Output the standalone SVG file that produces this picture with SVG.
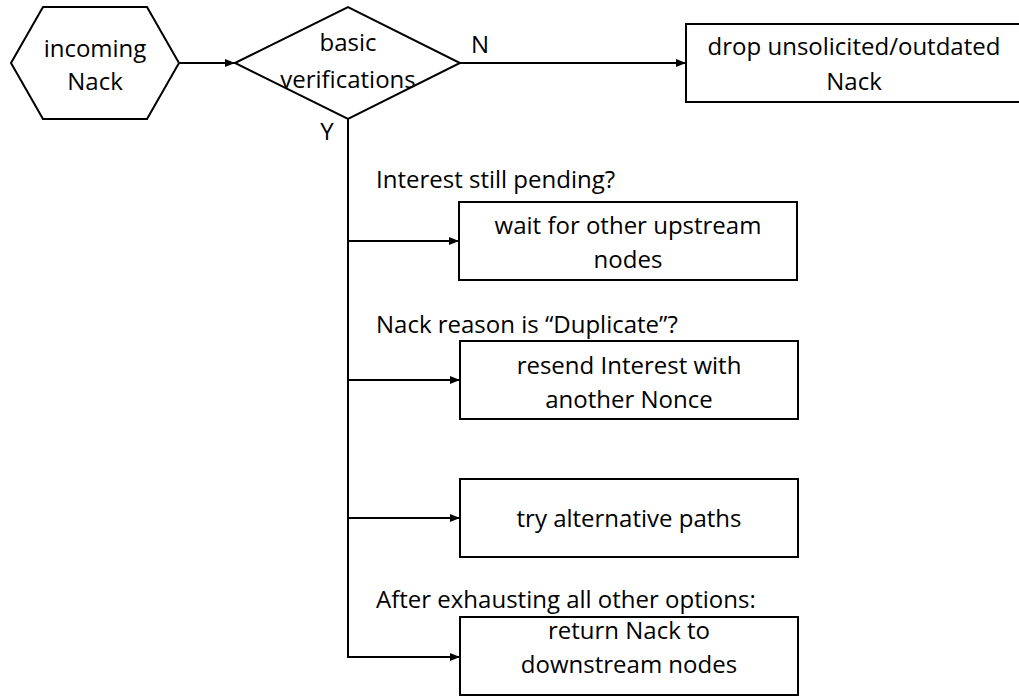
<svg xmlns="http://www.w3.org/2000/svg" width="1019" height="696" viewBox="0 0 1019 696">
  <style>
    .shape { fill: #fff; stroke: #000; stroke-width: 2; }
    .txt { font-family: "Open Sans", "Noto Sans", sans-serif; font-size: 24px; fill: #000; }
    .mid { text-anchor: middle; }
    .edge { fill: none; stroke: #000; stroke-width: 2; }
  </style>
  <defs>
    <marker id="arrow" markerWidth="10" markerHeight="8" refX="10" refY="4" orient="auto" markerUnits="userSpaceOnUse">
      <path d="M0,0 L10,4 L0,8 Z" fill="#000"/>
    </marker>
  </defs>

  <rect width="1019" height="696" fill="#fff"/>

  <!-- connectors -->
  <g id="connectors">
    <line class="edge" x1="179" y1="63" x2="235" y2="63" marker-end="url(#arrow)"/>
    <line class="edge" x1="460" y1="63" x2="686" y2="63" marker-end="url(#arrow)"/>
    <line class="edge" x1="348" y1="119" x2="348" y2="657"/>
    <line class="edge" x1="347" y1="241" x2="459" y2="241" marker-end="url(#arrow)"/>
    <line class="edge" x1="347" y1="380" x2="460" y2="380" marker-end="url(#arrow)"/>
    <line class="edge" x1="347" y1="518" x2="460" y2="518" marker-end="url(#arrow)"/>
    <line class="edge" x1="347" y1="657" x2="460" y2="657" marker-end="url(#arrow)"/>
    <text class="txt mid" x="480" y="53">N</text>
    <text class="txt mid" x="327" y="140">Y</text>
    <text class="txt" x="376" y="188">Interest still pending?</text>
    <text class="txt" x="376" y="333">Nack reason is “Duplicate”?</text>
    <text class="txt" x="376" y="608">After exhausting all other options:</text>
  </g>

  <!-- start node -->
  <g id="incoming-nack">
    <polygon class="shape" points="11,63 43,7 147,7 179,63 147,119 43,119"/>
    <text class="txt mid" x="95" y="57">incoming</text>
    <text class="txt mid" x="95" y="90">Nack</text>
  </g>

  <!-- decision -->
  <g id="basic-verifications">
    <polygon class="shape" points="235,63 348,7 460,63 348,119"/>
    <text class="txt mid" x="348" y="51">basic</text>
    <text class="txt mid" x="348" y="88">verifications</text>
  </g>

  <g id="drop-nack">
    <rect class="shape" x="686" y="24" width="340" height="78"/>
    <text class="txt mid" x="854" y="55">drop unsolicited/outdated</text>
    <text class="txt mid" x="854" y="90">Nack</text>
  </g>

  <g id="wait-upstream">
    <rect class="shape" x="459" y="202" width="338" height="78"/>
    <text class="txt mid" x="628" y="234">wait for other upstream</text>
    <text class="txt mid" x="628" y="268">nodes</text>
  </g>

  <g id="resend-interest">
    <rect class="shape" x="460" y="341" width="338" height="78"/>
    <text class="txt mid" x="629" y="374">resend Interest with</text>
    <text class="txt mid" x="629" y="408">another Nonce</text>
  </g>

  <g id="try-alternative">
    <rect class="shape" x="460" y="479" width="338" height="78"/>
    <text class="txt mid" x="629" y="527">try alternative paths</text>
  </g>

  <g id="return-nack">
    <rect class="shape" x="460" y="617" width="338" height="78"/>
    <text class="txt mid" x="629" y="639">return Nack to</text>
    <text class="txt mid" x="629" y="673">downstream nodes</text>
  </g>
</svg>
